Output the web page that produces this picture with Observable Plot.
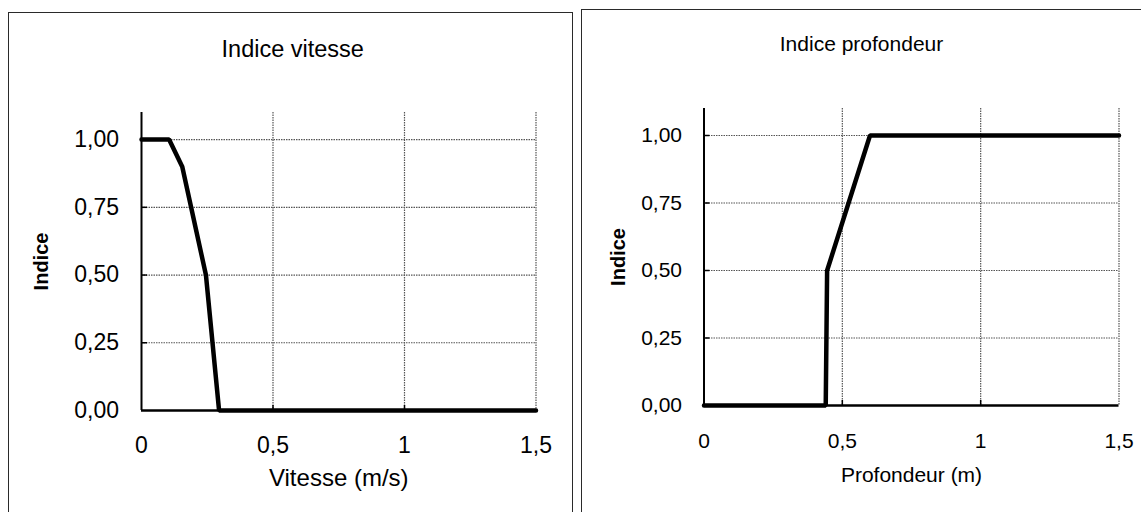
<!DOCTYPE html>
<html><head><meta charset="utf-8">
<script src="https://cdn.jsdelivr.net/npm/d3@7"></script>
<script src="https://cdn.jsdelivr.net/npm/@observablehq/plot@0.6"></script>
<style>
html,body{margin:0;padding:0;background:#fff;width:1141px;height:512px;overflow:hidden;}
#root{position:relative;width:1141px;height:512px;font-family:"Liberation Sans",Arial,sans-serif;}
.panel{position:absolute;border:1.5px solid #2a2a2a;box-sizing:border-box;}
.chart{position:absolute;}
</style></head><body><div id="root">
<div class="panel" style="left:8px;top:12px;width:565px;height:520px;"></div>
<div class="panel" style="left:581px;top:9px;width:590px;height:520px;"></div>
<div class="chart" id="c1" style="left:0;top:0"></div>
<div class="chart" id="c2" style="left:578px;top:0"></div>
</div>
<script>
// Data
const vitesseX = [0, 0.105, 0.155, 0.245, 0.295, 1.5];
const vitesseY = [1, 1, 0.9, 0.5, 0, 0];
const profondeurX = [0, 0.44, 0.445, 0.6, 1.5];
const profondeurY = [0, 0, 0.5, 1, 1];
const xTicks = [0, 0.5, 1, 1.5];
const yTicks = [0, 0.25, 0.5, 0.75, 1];
const titles = ["Indice vitesse", "Indice profondeur"];
const xLabels = ["Vitesse (m/s)", "Profondeur (m)"];
const yLabel = "Indice";

const FONT = '"Liberation Sans", Arial, sans-serif';
const fmtY = d => d.toFixed(2).replace(".", ",");
const fmtX = d => String(d).replace(".", ",");

function panel(o) {
  const data = o.xs.map((x, i) => ({x, y: o.ys[i]}));
  const gridStyle = {stroke: "#555", strokeOpacity: 1, strokeDasharray: "1.5,1", strokeWidth: 1.2};
  return Plot.plot({
    width: o.width, height: 512,
    marginLeft: o.ml, marginRight: o.mr, marginTop: o.mt, marginBottom: o.mb,
    style: {fontFamily: FONT, color: "#000", background: "transparent", overflow: "visible"},
    x: {domain: [0, 1.5]},
    y: {domain: [0, 1.1]},
    marks: [
      Plot.gridX(xTicks.filter(d => d > 0), gridStyle),
      Plot.gridY(yTicks.filter(d => d > 0), gridStyle),
      Plot.axisX({ticks: xTicks, tickSize: 0, tickPadding: o.xPad, tickFormat: fmtX, label: null, fontSize: o.tickFont, fill: "#000"}),
      Plot.axisY({ticks: yTicks, tickSize: 0, tickPadding: o.yPad, tickFormat: fmtY, label: null, fontSize: o.tickFont, fill: "#000"}),
      Plot.axisX({ticks: xTicks.filter(d => d > 0 && d < 1.5), tickSize: -5, tickFormat: () => "", label: null, stroke: "#000", strokeWidth: 1.5}),
      Plot.axisY({ticks: yTicks.filter(d => d > 0), tickSize: -6, tickFormat: () => "", label: null, stroke: "#000", strokeWidth: 1.5}),
      Plot.ruleX([0], {stroke: "#000", strokeWidth: 2}),
      Plot.ruleY([0], {stroke: "#000", strokeWidth: 2.5}),
      Plot.line(data, {x: "x", y: "y", stroke: "#000", strokeWidth: 4.5, strokeLinejoin: "miter"}),
      Plot.text([o.title], {frameAnchor: "top", textAnchor: "middle", dx: o.titleDx, dy: o.titleDy, fontSize: o.titleFont, fill: "#000", lineAnchor: "middle"}),
      Plot.text([o.xLabel], {frameAnchor: "bottom", textAnchor: "middle", dx: o.xLabelDx, dy: o.xLabelDy, fontSize: o.labelFont, fill: "#000", lineAnchor: "middle"}),
      Plot.text([yLabel], {frameAnchor: "left", textAnchor: "middle", dx: o.yLabelDx, rotate: -90, fontSize: 20, fontWeight: "bold", fill: "#000", lineAnchor: "middle"})
    ]
  });
}

document.getElementById("c1").append(panel({
  xs: vitesseX, ys: vitesseY, title: titles[0], xLabel: xLabels[0],
  width: 575, ml: 141, mr: 39.5, mt: 112, mb: 102,
  xPad: 26, yPad: 22.5, tickFont: 23, titleFont: 23.5, labelFont: 24,
  titleDx: -46, titleDy: -63, xLabelDx: 0, xLabelDy: 68, yLabelDx: -100
}));
document.getElementById("c2").append(panel({
  xs: profondeurX, ys: profondeurY, title: titles[1], xLabel: xLabels[1],
  width: 563, ml: 125.5, mr: 22.5, mt: 108, mb: 107,
  xPad: 28, yPad: 22, tickFont: 21, titleFont: 21, labelFont: 21,
  titleDx: -50, titleDy: -64, xLabelDx: 0, xLabelDy: 70, yLabelDx: -85
}));
</script>
</body></html>
